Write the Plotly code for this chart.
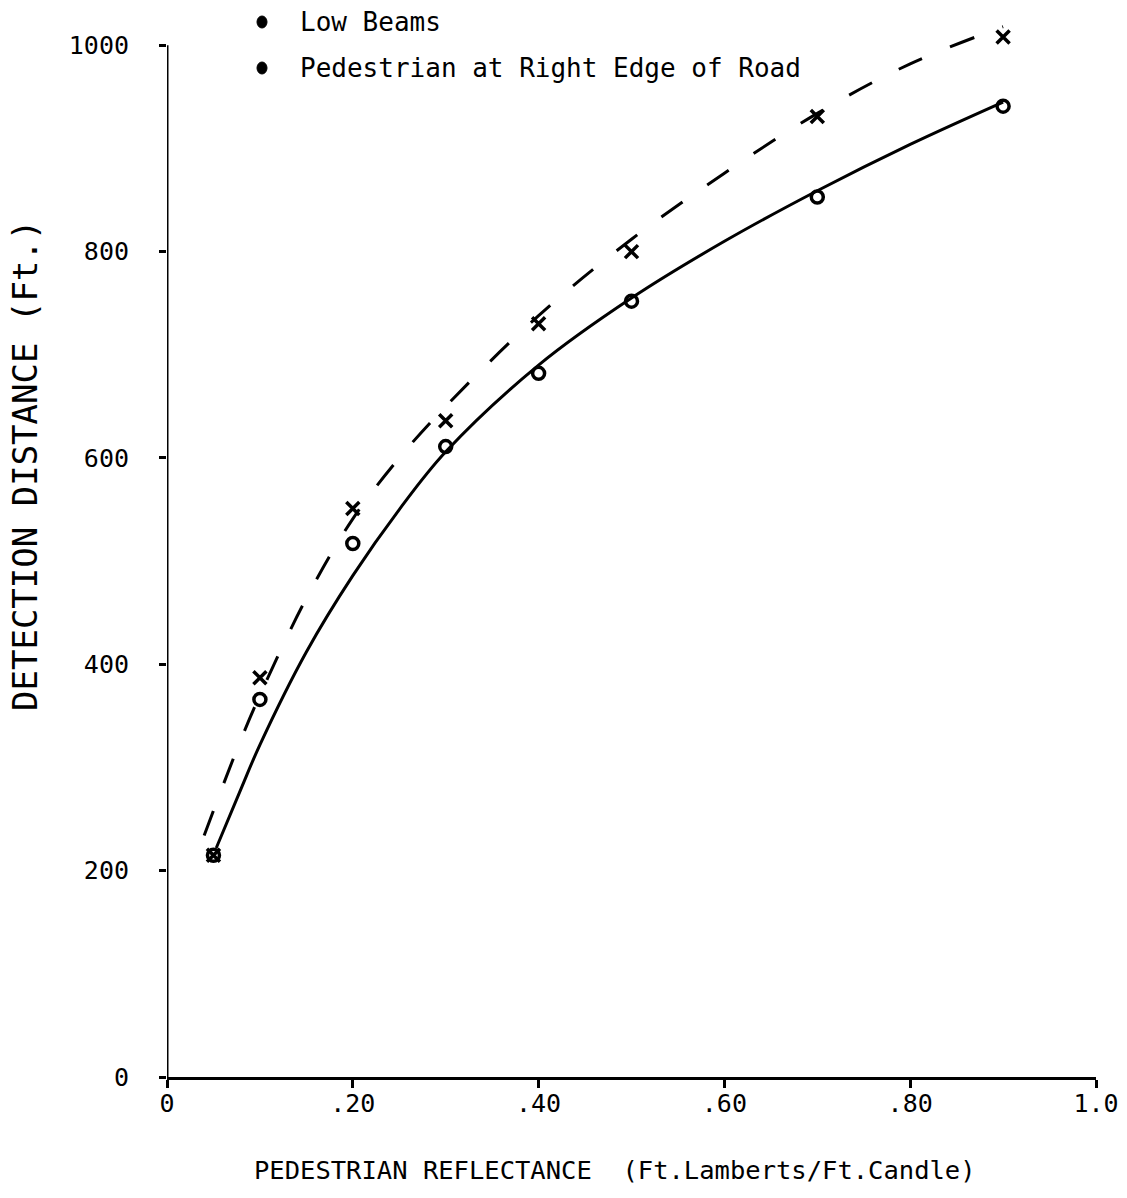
import plotly.graph_objects as go

# ---- data ----
reflectance_pts = [0.05, 0.10, 0.20, 0.30, 0.40, 0.50, 0.70, 0.90]
low_beam_o = [215, 366, 517, 611, 682, 752, 853, 941]
right_edge_x = [215, 387, 551, 636, 730, 800, 931, 1008]

solid_curve_x = [0.053, 0.08, 0.10, 0.15, 0.20, 0.25, 0.30, 0.40, 0.50, 0.60, 0.70, 0.80, 0.90]
solid_curve_y = [222, 280, 322, 412, 486, 550, 606, 690, 755, 810, 859, 904, 945]

dashed_curve_x = [0.04, 0.06, 0.08, 0.10, 0.15, 0.20, 0.25, 0.30, 0.40, 0.50, 0.60, 0.70, 0.80, 0.90]
dashed_curve_y = [234, 282, 328, 370, 464, 541, 600, 650, 738, 812, 876, 934, 982, 1018]

x_tickvals = [0, 0.2, 0.4, 0.6, 0.8, 1.0]
x_ticktext = ["0", ".20", ".40", ".60", ".80", "1.0"]
y_tickvals = [0, 200, 400, 600, 800, 1000]
y_ticktext = ["0", "200", "400", "600", "800", "1000"]

legend_labels = ["Low Beams", "Pedestrian at Right Edge of Road"]

# ---- layout geometry (pixels) ----
W, H = 1127, 1198
ML, MR, MT, MB = 167, 31, 4, 121
PW, PH = W - ML - MR, H - MT - MB
FONT = "DejaVu Sans Mono"


def px(xp):
    return (xp - ML) / PW


def py(yp):
    return (H - MB - yp) / PH


fig = go.Figure()

fig.add_trace(go.Scatter(
    x=solid_curve_x, y=solid_curve_y, mode="lines",
    line=dict(color="black", width=3, shape="spline", smoothing=1.0),
    showlegend=False, hoverinfo="skip"))
fig.add_trace(go.Scatter(
    x=dashed_curve_x, y=dashed_curve_y, mode="lines",
    line=dict(color="black", width=3, shape="spline", smoothing=1.0, dash="26px,30px"),
    showlegend=False, hoverinfo="skip"))
fig.add_trace(go.Scatter(
    x=reflectance_pts, y=low_beam_o, mode="markers",
    marker=dict(symbol="circle-open", size=12, color="black", line=dict(width=3.5, color="black")),
    showlegend=False, cliponaxis=False))
fig.add_trace(go.Scatter(
    x=reflectance_pts, y=right_edge_x, mode="markers",
    marker=dict(symbol="x-thin-open", size=13, color="black", line=dict(width=3.5, color="black")),
    showlegend=False, cliponaxis=False))

# y axis line (stops at 1000)
fig.add_shape(type="line", xref="x", yref="y", x0=0, x1=0, y0=0, y1=1000,
              line=dict(color="black", width=3))

# legend (text + dots)
legend_rows_px = [22, 68]
for lab, yy in zip(legend_labels, legend_rows_px):
    fig.add_shape(type="circle", xref="paper", yref="paper",
                  xsizemode="pixel", ysizemode="pixel",
                  xanchor=px(262), yanchor=py(yy),
                  x0=-5, x1=5, y0=-6, y1=6,
                  fillcolor="black", line=dict(color="black", width=1))
    fig.add_annotation(text=lab, xref="paper", yref="paper", x=px(298), y=py(yy),
                       xanchor="left", yanchor="middle", showarrow=False,
                       font=dict(family=FONT, size=26, color="black"))

# axis titles
fig.add_annotation(text="PEDESTRIAN REFLECTANCE \u00a0(Ft.Lamberts/Ft.Candle)",
                   xref="paper", yref="paper", x=px(615), y=py(1170),
                   xanchor="center", yanchor="middle", showarrow=False,
                   font=dict(family=FONT, size=25.5, color="black"))
fig.add_annotation(text="DETECTION DISTANCE (Ft.)", textangle=-90,
                   xref="paper", yref="paper", x=px(25), y=py(466),
                   xanchor="center", yanchor="middle", showarrow=False,
                   font=dict(family=FONT, size=34, color="black"))

fig.update_layout(
    width=W, height=H,
    margin=dict(l=ML, r=MR, t=MT, b=MB, pad=0),
    paper_bgcolor="white", plot_bgcolor="white",
    font=dict(family=FONT, color="black"),
    xaxis=dict(range=[0, 1.0], showgrid=False, zeroline=False,
               showline=True, linecolor="black", linewidth=3,
               ticks="outside", ticklen=8, tickwidth=3, tickcolor="black",
               tickvals=x_tickvals, ticktext=x_ticktext,
               tickfont=dict(family=FONT, size=25, color="black"),
               ticklabelstandoff=-6),
    yaxis=dict(range=[0, 1040], showgrid=False, zeroline=False,
               showline=False,
               ticks="outside", ticklen=7, tickwidth=3, tickcolor="black",
               tickvals=y_tickvals, ticktext=y_ticktext,
               tickfont=dict(family=FONT, size=25, color="black"),
               ticklabelstandoff=25),
)

fig.write_html("out.html")
